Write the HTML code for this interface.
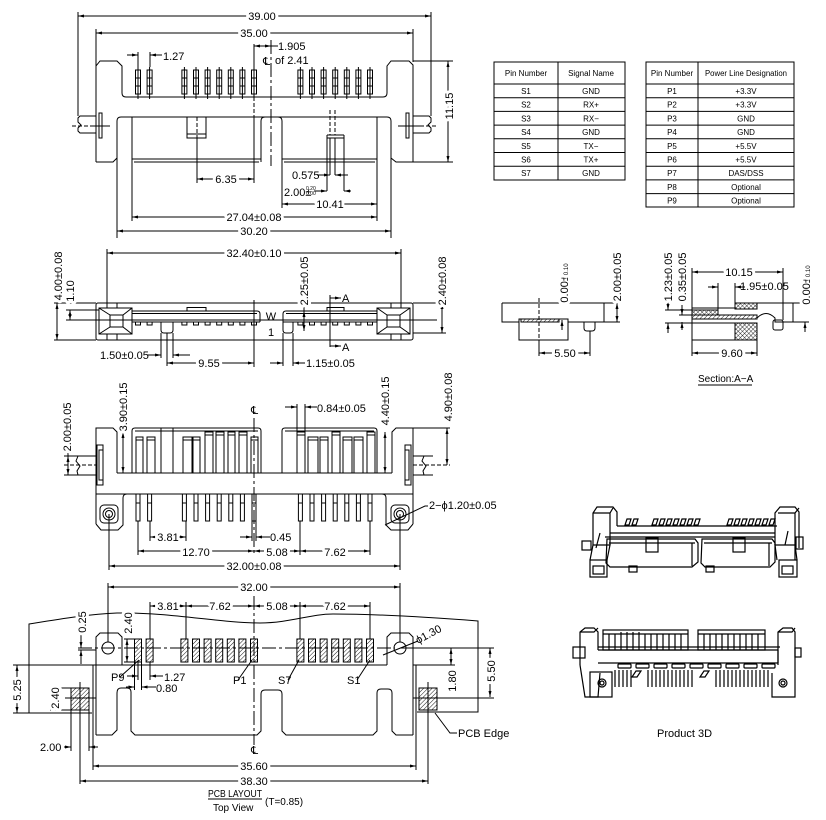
<!DOCTYPE html>
<html><head><meta charset="utf-8">
<style>
html,body{margin:0;padding:0;background:#fff;width:826px;height:820px;overflow:hidden}
svg{display:block}
.l{stroke:#000;stroke-width:1;fill:none}
.m{marker-start:url(#a);marker-end:url(#a)}
.me{marker-end:url(#a)}
text{font-family:"Liberation Sans","DejaVu Sans",sans-serif;font-size:11px;fill:#000;stroke:none}
.d{paint-order:stroke;stroke:#fff;stroke-width:6px;stroke-linejoin:round}
.tb{font-size:8px}
.dash{stroke-dasharray:4 2}
.cl{stroke-dasharray:14 3 3 3}
.hp{fill:url(#h)}
.xp{fill:url(#x)}
.bk{fill:#000}
.g3 path,.g3 rect,.g3 circle{stroke-width:1.2}
</style></head><body>
<svg width="826" height="820" viewBox="0 0 826 820" xmlns="http://www.w3.org/2000/svg">
<defs>
<marker id="a" viewBox="0 0 8 4" refX="8" refY="2" markerWidth="7" markerHeight="3" markerUnits="userSpaceOnUse" orient="auto-start-reverse"><path d="M0,0L8,2L0,4z" fill="#000"/></marker>
<pattern id="h" width="3" height="3" patternUnits="userSpaceOnUse" patternTransform="rotate(45)"><line x1="0" y1="0" x2="0" y2="3" stroke="#000" stroke-width="0.9"/></pattern>
<pattern id="x" width="3" height="3" patternUnits="userSpaceOnUse" patternTransform="rotate(45)"><path d="M0,0V3M0,0H3" stroke="#000" stroke-width="0.8" fill="none"/></pattern>
<g id="pt" class="l"><rect x="-2.5" y="70" width="5" height="24"/><path d="M0,67V99M-2.5,78H2.5M-2.5,86H2.5"/></g>
<g id="pb" class="l"><rect x="-2" y="494" width="4" height="27"/><path d="M-2,503H2"/></g>
<rect id="tt" class="l" x="-2.5" y="322" width="5" height="3"/>
<rect id="pd" class="l hp" x="-3.5" y="639" width="7" height="23"/>
</defs>
<rect width="826" height="820" fill="#fff"/>

<!-- ================= TOP VIEW ================= -->
<g class="l">
<line class="m" x1="78" y1="16" x2="431" y2="16"/>
<path d="M78,12V116M431,12V116M96,29V66M413,29V62"/>
<line class="m" x1="96" y1="33" x2="413" y2="33"/>
<path d="M96,162V66L100,61H117L122,66V93Q122,97 126,97H383Q387,97 387,93V66L391,61H409L413,65V162H396L391,158"/>
<path d="M96,162H113L117,158"/>
<path d="M117,238V121Q117,117 121,117H387Q391,117 391,121V238"/>
<path d="M261,162V121Q261,117 265,117M282,162V121Q282,117 278,117"/>
<path d="M132,117V221M377,117V221"/>
<path d="M132,159H261M134,162H259M282,159H377M284,162H375"/>
<rect x="187" y="117" width="19" height="21"/><path d="M187,134H206"/>
<path d="M197,138V183"/><path class="dash" d="M197,117V138"/>
<path d="M254,44V97M254,117V183"/><path class="dash" d="M254,97V117"/>
<path class="cl" d="M271,40V166"/>
<path d="M327,135V191M344,135V191M327,135H344M327,138H344M330,138V175M335,138V175"/>
<path class="dash" d="M330,110V135M335,110V135"/>
<path d="M96,116H80L78,118V122L81,125L78,128V131L80,133H96"/>
<path d="M413,116H429L431,118V122L428,125L431,128V131L429,133H413"/>
<rect x="99" y="113" width="3" height="25"/><rect x="406" y="113" width="3" height="25"/>
<path d="M90,126H110M398,126H420"/><path class="dash" d="M72,126H90M420,126H438"/>
<line class="m" x1="254" y1="46" x2="271" y2="46"/><path d="M271,46H278"/>
<line class="me" x1="127" y1="55" x2="138" y2="55"/><line class="me" x1="162" y1="55" x2="150" y2="55"/>
<path d="M138,52V67M150,52V67"/>
<line class="me" x1="317" y1="175" x2="330" y2="175"/><line class="me" x1="348" y1="175" x2="335" y2="175"/>
<line class="me" x1="314" y1="191" x2="327" y2="191"/><line class="me" x1="351" y1="191" x2="344" y2="191"/>
<line class="m" x1="197" y1="179" x2="254" y2="179"/>
<path d="M282,162V208"/>
<line class="m" x1="282" y1="204" x2="377" y2="204"/>
<line class="m" x1="132" y1="217" x2="377" y2="217"/>
<line class="m" x1="117" y1="231" x2="391" y2="231"/>
<path d="M413,61H453M413,162H453"/>
<line class="m" x1="448" y1="61" x2="448" y2="162"/>
</g>
<use href="#pt" x="138"/><use href="#pt" x="149.6"/>
<use href="#pt" x="184.4"/><use href="#pt" x="196"/><use href="#pt" x="207.6"/><use href="#pt" x="219.2"/><use href="#pt" x="230.8"/><use href="#pt" x="242.4"/><use href="#pt" x="254"/>
<use href="#pt" x="300.4"/><use href="#pt" x="312"/><use href="#pt" x="323.6"/><use href="#pt" x="335.2"/><use href="#pt" x="346.8"/><use href="#pt" x="358.4"/><use href="#pt" x="370"/>
<text class="d" x="262" y="20" text-anchor="middle">39.00</text>
<text class="d" x="254" y="37" text-anchor="middle">35.00</text>
<text x="278" y="50">1.905</text>
<text x="263" y="65">℄</text><text x="275" y="64">of 2.41</text>
<text x="163" y="60">1.27</text>
<text class="d" x="226" y="183" text-anchor="middle">6.35</text>
<text x="292" y="179">0.575</text>
<text x="284" y="196">2.00±</text><text x="306" y="190" style="font-size:5px">0.20</text><text x="306" y="195" style="font-size:5px">0.00</text>
<text class="d" x="330" y="208" text-anchor="middle">10.41</text>
<text class="d" x="254" y="221" text-anchor="middle">27.04±0.08</text>
<text class="d" x="254" y="235" text-anchor="middle">30.20</text>
<text class="d" transform="translate(453,106) rotate(-90)" text-anchor="middle">11.15</text>

<!-- ================= TABLES ================= -->
<g class="l">
<rect x="494" y="62" width="131" height="118"/>
<path d="M558,62V180M494,84H625M494,97.7H625M494,111.4H625M494,125.1H625M494,138.8H625M494,152.5H625M494,166.2H625"/>
<rect x="646" y="62" width="148" height="145"/>
<path d="M698,62V207M646,84H794M646,97.7H794M646,111.4H794M646,125.1H794M646,138.8H794M646,152.5H794M646,166.2H794M646,179.9H794M646,193.6H794"/>
</g>
<g class="tb" text-anchor="middle">
<text class="tb" x="526" y="76">Pin Number</text><text class="tb" x="591" y="76">Signal Name</text>
<text class="tb" x="526" y="94">S1</text><text class="tb" x="591" y="94">GND</text>
<text class="tb" x="526" y="107.7">S2</text><text class="tb" x="591" y="107.7">RX+</text>
<text class="tb" x="526" y="121.4">S3</text><text class="tb" x="591" y="121.4">RX−</text>
<text class="tb" x="526" y="135.1">S4</text><text class="tb" x="591" y="135.1">GND</text>
<text class="tb" x="526" y="148.8">S5</text><text class="tb" x="591" y="148.8">TX−</text>
<text class="tb" x="526" y="162.5">S6</text><text class="tb" x="591" y="162.5">TX+</text>
<text class="tb" x="526" y="176.2">S7</text><text class="tb" x="591" y="176.2">GND</text>
<text class="tb" x="672" y="76">Pin Number</text><text class="tb" x="746" y="76" textLength="82" lengthAdjust="spacingAndGlyphs">Power Line Designation</text>
<text class="tb" x="672" y="94">P1</text><text class="tb" x="746" y="94">+3.3V</text>
<text class="tb" x="672" y="107.7">P2</text><text class="tb" x="746" y="107.7">+3.3V</text>
<text class="tb" x="672" y="121.4">P3</text><text class="tb" x="746" y="121.4">GND</text>
<text class="tb" x="672" y="135.1">P4</text><text class="tb" x="746" y="135.1">GND</text>
<text class="tb" x="672" y="148.8">P5</text><text class="tb" x="746" y="148.8">+5.5V</text>
<text class="tb" x="672" y="162.5">P6</text><text class="tb" x="746" y="162.5">+5.5V</text>
<text class="tb" x="672" y="176.2">P7</text><text class="tb" x="746" y="176.2">DAS/DSS</text>
<text class="tb" x="672" y="189.9">P8</text><text class="tb" x="746" y="189.9">Optional</text>
<text class="tb" x="672" y="203.6">P9</text><text class="tb" x="746" y="203.6">Optional</text>
</g>

<!-- ================= FRONT VIEW ================= -->
<g class="l">
<line class="m" x1="107" y1="253" x2="401" y2="253"/>
<path d="M107,249V303M401,249V303"/>
<rect x="96" y="303" width="317" height="37" rx="2"/>
<path d="M107,303V308M117,303V308M107,334V340M117,334V340M391,303V308M401,303V308M391,334V340M401,334V340"/>
<rect x="99" y="308" width="33" height="26"/><rect x="110" y="315" width="13" height="12"/>
<path d="M99,308L110,315M132,308L123,315M99,334L110,327M132,334L123,327"/>
<rect x="377" y="308" width="33" height="26"/><rect x="387" y="315" width="13" height="12"/>
<path d="M377,308L387,315M410,308L400,315M377,334L387,327M410,334L400,327"/>
<path d="M77,320H437"/>
<path d="M132,311H257Q260,311 260,314V322M132,313.5H257M132,322H260"/>
<path d="M283,322V314Q283,311 286,311H377M286,313.5H377M283,322H377"/>
<rect x="187" y="307.5" width="19" height="3.5"/><rect x="327" y="307.5" width="17" height="3.5"/>
<path d="M161,322V330Q161,333 164,333H170Q173,333 173,330V322"/>
<path d="M283,322V330Q283,333 286,333H290Q293,333 293,330V322"/>
<path d="M254,300V367"/>
<path d="M330,295V347"/>
<line class="me" x1="330" y1="298" x2="341" y2="298"/><line class="me" x1="330" y1="346" x2="341" y2="346"/>
<path d="M54,303H96M54,340H96"/><line class="m" x1="57" y1="303" x2="57" y2="340"/>
<path d="M66,310H99M66,320H77"/><line class="m" x1="70" y1="310" x2="70" y2="320"/>
<line class="m" x1="304" y1="311" x2="304" y2="331"/><path d="M304,303V311"/>
<path d="M413,303H446M413,333H446"/><line class="m" x1="442" y1="303" x2="442" y2="333"/>
<path d="M161,333V358M173,333V358M167,333V366M283,333V366M293,333V366"/>
<line class="me" x1="147" y1="355" x2="161" y2="355"/><line class="me" x1="190" y1="355" x2="173" y2="355"/>
<line class="m" x1="167" y1="363" x2="254" y2="363"/>
<line class="me" x1="270" y1="363" x2="283" y2="363"/><line class="me" x1="305" y1="363" x2="293" y2="363"/>
</g>
<use href="#tt" x="138"/><use href="#tt" x="149.6"/><use href="#tt" x="184.4"/><use href="#tt" x="196"/><use href="#tt" x="207.6"/><use href="#tt" x="219.2"/><use href="#tt" x="230.8"/><use href="#tt" x="242.4"/><use href="#tt" x="254"/>
<use href="#tt" x="300.4"/><use href="#tt" x="312"/><use href="#tt" x="323.6"/><use href="#tt" x="335.2"/><use href="#tt" x="346.8"/><use href="#tt" x="358.4"/><use href="#tt" x="370"/>
<text class="d" x="254" y="257" text-anchor="middle">32.40±0.10</text>
<text x="271" y="320" text-anchor="middle">W</text>
<text x="271" y="336" text-anchor="middle">1</text>
<text x="342" y="302">A</text><text x="342" y="351">A</text>
<text class="d" transform="translate(62,276) rotate(-90)" text-anchor="middle">4.00±0.08</text>
<text class="d" transform="translate(74,291) rotate(-90)" text-anchor="middle">1.10</text>
<text class="d" transform="translate(308,281) rotate(-90)" text-anchor="middle">2.25±0.05</text>
<text class="d" transform="translate(446,281) rotate(-90)" text-anchor="middle">2.40±0.08</text>
<text x="100" y="359">1.50±0.05</text>
<text class="d" x="209" y="367" text-anchor="middle">9.55</text>
<text x="306" y="367">1.15±0.05</text>

<!-- ================= SECTION VIEWS ================= -->
<g class="l">
<path d="M502,303H617M502,303V322H519M568,322H620M604,303V322"/>
<rect x="519" y="319" width="49" height="21"/>
<rect class="hp" x="521" y="319" width="38" height="3"/>
<path class="dash" d="M539,298V340"/><path d="M539,340V356"/>
<path d="M584,322V328Q584,331 587,331H592Q595,331 595,328V322M590,331V356"/>
<line class="m" x1="539" y1="353" x2="590" y2="353"/>
<line class="me" x1="562" y1="290" x2="562" y2="303"/><line class="me" x1="562" y1="330" x2="562" y2="320"/>
<line class="m" x1="617" y1="303" x2="617" y2="322"/>

<path d="M692,268V340H757V323M735,303H793V322H783M692,308H735V303"/>
<path d="M783,268V320M718,283V310M735,283V303"/>
<line class="m" x1="692" y1="272" x2="783" y2="272"/>
<line class="me" x1="708" y1="287" x2="718" y2="287"/><line class="me" x1="745" y1="287" x2="735" y2="287"/>
<rect class="l xp" x="735" y="303" width="22" height="6"/>
<rect class="l xp" x="735" y="323" width="22" height="17"/>
<rect class="l xp" x="692" y="310" width="26" height="5"/>
<rect class="l hp" x="692" y="315" width="65" height="4"/>
<path d="M692,323H735M757,318Q766,309 775,318V322H783"/>
<rect x="773" y="320" width="10" height="10" rx="2"/>
<path d="M692,340V356M757,340V356"/>
<line class="m" x1="692" y1="353" x2="757" y2="353"/>
<path d="M665,310H692M665,323H692M679,315H692"/>
<line class="me" x1="668" y1="300" x2="668" y2="310"/><line class="me" x1="668" y1="333" x2="668" y2="323"/>
<line class="me" x1="682" y1="305" x2="682" y2="315"/><line class="me" x1="682" y1="330" x2="682" y2="322"/>
<path d="M793,303H809M793,322H809"/>
<line class="me" x1="805" y1="293" x2="805" y2="303"/><line class="me" x1="805" y1="332" x2="805" y2="322"/>
<path d="M698,385H752"/>
</g>
<text class="d" transform="translate(568,283) rotate(-90)" text-anchor="middle">0.00±<tspan style="font-size:6px">0.10</tspan></text>
<text class="d" transform="translate(621,277) rotate(-90)" text-anchor="middle">2.00±0.05</text>
<text class="d" x="565" y="357" text-anchor="middle">5.50</text>
<text class="d" x="739" y="276" text-anchor="middle">10.15</text>
<text x="740" y="290">1.95±0.05</text>
<text class="d" x="732" y="357" text-anchor="middle">9.60</text>
<text class="d" transform="translate(672,277) rotate(-90)" text-anchor="middle">1.23±0.05</text>
<text class="d" transform="translate(686,277) rotate(-90)" text-anchor="middle">0.35±0.05</text>
<text class="d" transform="translate(810,285) rotate(-90)" text-anchor="middle">0.00±<tspan style="font-size:6px">0.10</tspan></text>
<text x="698" y="382" style="font-size:10px">Section:A−A</text>

<!-- ================= BOTTOM/FRONT VIEW ================= -->
<g class="l">
<path d="M96,524V428H113L117,432V473M413,524V428H396L392,432V473"/>
<path d="M117,473H392M96,494H413"/>
<path d="M96,524L101,530H118L123,525V498Q123,494 127,494"/>
<path d="M413,524L408,530H391L386,525V498Q386,494 382,494"/>
<rect x="100" y="505" width="18" height="18" rx="4"/><circle cx="109" cy="514" r="6"/><circle cx="109" cy="514" r="3.5"/>
<rect x="391" y="505" width="18" height="18" rx="4"/><circle cx="400" cy="514" r="6"/><circle cx="400" cy="514" r="3.5"/>
<path d="M132,473V431Q132,428 135,428H258Q261,428 261,431V473M135,431H258M161,428V473M173,428V473"/>
<path d="M282,473V431Q282,428 285,428H374Q377,428 377,431V473M285,431H374"/>
<rect x="136" y="437" width="7" height="36"/><rect x="147" y="437" width="8" height="36"/>
<rect x="183" y="437" width="9" height="36"/><rect x="193" y="437" width="7" height="36"/>
<rect x="205" y="432" width="8" height="41"/><rect x="216" y="432" width="8" height="41"/>
<rect x="228" y="432" width="7" height="41"/><rect x="239" y="432" width="8" height="41"/>
<rect x="251" y="437" width="7" height="36"/>
<rect x="297" y="432" width="8" height="41"/><rect x="308" y="437" width="10" height="36"/>
<rect x="320" y="437" width="8" height="36"/><rect x="332" y="432" width="8" height="41"/>
<rect x="343" y="437" width="9" height="36"/><rect x="354" y="437" width="9" height="36"/>
<rect x="367" y="432" width="8" height="41"/>
<path d="M136,440H143M147,440H155M183,440H192M193,440H200M205,435H213M216,435H224M228,435H235M239,435H247M251,440H258M297,435H305M308,440H318M320,440H328M332,435H340M343,440H352M354,440H363M367,435H375"/>
<path d="M67,456H96M67,475H96M78,456L76,461L80,466L77,471L78,475"/>
<path d="M413,456H433M413,475H433M424,456L422,461L426,466L423,471L424,475"/>
<rect x="97" y="445" width="6" height="40"/><rect x="99" y="450" width="4" height="30"/>
<rect x="405" y="445" width="6" height="40"/><rect x="405" y="450" width="4" height="30"/>
<path class="dash" d="M64,465H96M413,465H450"/>
<path class="cl" d="M254,418V556"/>
<path d="M64,456H67M64,475H67"/>
<line class="m" x1="68" y1="456" x2="68" y2="475"/><path d="M68,452V456"/>
<line class="m" x1="123" y1="432" x2="123" y2="473"/>
<line class="m" x1="385" y1="432" x2="385" y2="473"/>
<path d="M413,428H450"/><line class="m" x1="447" y1="428" x2="447" y2="465"/>
<path d="M297,404V432M305,404V432"/>
<line class="me" x1="285" y1="407" x2="297" y2="407"/><line class="me" x1="317" y1="407" x2="305" y2="407"/>
<path d="M150,521V541M186,521V541M138,521V555M300,521V555M370,521V555M109,514V570M400,514V570"/>
<line class="m" x1="150" y1="537" x2="186" y2="537"/>
<line class="me" x1="240" y1="537" x2="252" y2="537"/><line class="me" x1="270" y1="537" x2="256" y2="537"/>
<path d="M252,521V541M256,521V541"/>
<line class="m" x1="138" y1="551" x2="254" y2="551"/>
<line class="m" x1="254" y1="551" x2="300" y2="551"/>
<line class="m" x1="300" y1="551" x2="370" y2="551"/>
<line class="m" x1="109" y1="566" x2="400" y2="566"/>
<path d="M385,525L425,506H428"/>
</g>
<use href="#pb" x="138"/><use href="#pb" x="149.6"/><use href="#pb" x="184.4"/><use href="#pb" x="196"/><use href="#pb" x="207.6"/><use href="#pb" x="219.2"/><use href="#pb" x="230.8"/><use href="#pb" x="242.4"/><use href="#pb" x="254"/>
<use href="#pb" x="300.4"/><use href="#pb" x="312"/><use href="#pb" x="323.6"/><use href="#pb" x="335.2"/><use href="#pb" x="346.8"/><use href="#pb" x="358.4"/><use href="#pb" x="370"/>
<text x="251" y="414">℄</text>
<text x="317" y="412">0.84±0.05</text>
<text class="d" transform="translate(71,427) rotate(-90)" text-anchor="middle">2.00±0.05</text>
<text class="d" transform="translate(127,407) rotate(-90)" text-anchor="middle">3.90±0.15</text>
<text class="d" transform="translate(389,401) rotate(-90)" text-anchor="middle">4.40±0.15</text>
<text class="d" transform="translate(452,397) rotate(-90)" text-anchor="middle">4.90±0.08</text>
<text class="d" x="168" y="541" text-anchor="middle">3.81</text>
<text x="270" y="541">0.45</text>
<text class="d" x="196" y="556" text-anchor="middle">12.70</text>
<text class="d" x="277" y="556" text-anchor="middle">5.08</text>
<text class="d" x="335" y="556" text-anchor="middle">7.62</text>
<text class="d" x="254" y="570" text-anchor="middle">32.00±0.08</text>
<text x="429" y="509">2−ϕ1.20±0.05</text>

<!-- ================= PCB LAYOUT ================= -->
<g class="l">
<line class="m" x1="108" y1="587" x2="400" y2="587"/>
<path d="M108,583V642M400,583V642"/>
<path d="M150,602V639M186,602V639M300,602V639M370,602V639"/>
<line class="m" x1="150" y1="606" x2="186" y2="606"/>
<line class="m" x1="186" y1="606" x2="254" y2="606"/>
<line class="m" x1="254" y1="606" x2="300" y2="606"/>
<line class="m" x1="300" y1="606" x2="370" y2="606"/>
<path d="M29,713V624C60,619 90,614 117,613C170,612 220,623 260,623C290,623 310,614 333,614C380,614 440,618 478,621V712H417"/>
<path d="M13,713H92"/>
<path d="M96,735V637L100,633H118L122,637V665M387,665V637L391,633H409L413,637V735"/>
<path d="M13,665H387M413,665H455"/>
<path d="M96,735H112L117,730V693Q117,688 121,688H127Q131,688 131,692V731L135,735H257L261,731V694Q261,690 265,690H278Q282,690 282,694V731L286,735H373L377,731V693Q377,689 381,689H388Q392,689 392,693V731L396,735H413"/>
<path d="M93,665V770M416,665V770M80,682V784M428,682V784"/>
<line class="m" x1="93" y1="766" x2="416" y2="766"/>
<line class="m" x1="80" y1="781" x2="428" y2="781"/>
<circle cx="108" cy="648" r="6"/><circle cx="400" cy="648" r="6"/>
<path class="cl" d="M78,648H395"/>
<path d="M78,650H96"/>
<rect class="l hp" x="71" y="688" width="18" height="22"/>
<rect class="l hp" x="419" y="688" width="18" height="22"/>
<path d="M65,698H96M413,698H494"/>
<path class="cl" d="M254,596V745"/>
<line class="me" x1="81" y1="634" x2="81" y2="648"/><line class="me" x1="81" y1="664" x2="81" y2="650"/>
<path d="M124,639H136M124,662H136"/><line class="m" x1="127" y1="639" x2="127" y2="662"/>
<path d="M120,677L139,660"/>
<path d="M138,662V680M150,662V680M134.5,662V690M141.5,662V690"/>
<line class="me" x1="127" y1="676" x2="138" y2="676"/><line class="me" x1="163" y1="676" x2="150" y2="676"/>
<line class="me" x1="126" y1="687" x2="134.5" y2="687"/><line class="me" x1="156" y1="687" x2="141.5" y2="687"/>
<path d="M238,680L252,660M288,680L299,660M357,680L370,660"/>
<path d="M383,655L418,641"/>
<path d="M400,648H494"/>
<line class="m" x1="451" y1="648" x2="451" y2="665"/>
<line class="m" x1="490" y1="648" x2="490" y2="697"/>
<line class="m" x1="17" y1="665" x2="17" y2="713"/>
<path d="M50,688H71M50,710H71"/><line class="m" x1="55" y1="688" x2="55" y2="710"/>
<path d="M71,710V751M89,710V751"/>
<line class="me" x1="64" y1="747" x2="71" y2="747"/><line class="me" x1="98" y1="747" x2="89" y2="747"/>
<path d="M435,713L450,733H457"/>
<path d="M208,799H262"/>
</g>
<use href="#pd" x="138"/><use href="#pd" x="149.6"/><use href="#pd" x="184.4"/><use href="#pd" x="196"/><use href="#pd" x="207.6"/><use href="#pd" x="219.2"/><use href="#pd" x="230.8"/><use href="#pd" x="242.4"/><use href="#pd" x="254"/>
<use href="#pd" x="300.4"/><use href="#pd" x="312"/><use href="#pd" x="323.6"/><use href="#pd" x="335.2"/><use href="#pd" x="346.8"/><use href="#pd" x="358.4"/><use href="#pd" x="370"/>
<text class="d" x="254" y="591" text-anchor="middle">32.00</text>
<text class="d" x="168" y="610" text-anchor="middle">3.81</text>
<text class="d" x="220" y="610" text-anchor="middle">7.62</text>
<text class="d" x="277" y="610" text-anchor="middle">5.08</text>
<text class="d" x="335" y="610" text-anchor="middle">7.62</text>
<text class="d" transform="translate(86,622) rotate(-90)" text-anchor="middle">0.25</text>
<text class="d" transform="translate(132,623) rotate(-90)" text-anchor="middle">2.40</text>
<text x="111" y="681">P9</text>
<text x="164" y="681">1.27</text>
<text x="156" y="692">0.80</text>
<text x="233" y="684">P1</text>
<text x="278" y="684">S7</text>
<text x="347" y="684">S1</text>
<text transform="translate(418,644) rotate(-28)">ϕ1.30</text>
<text class="d" transform="translate(456,681) rotate(-90)" text-anchor="middle">1.80</text>
<text class="d" transform="translate(495,671) rotate(-90)" text-anchor="middle">5.50</text>
<text class="d" transform="translate(21,690) rotate(-90)" text-anchor="middle">5.25</text>
<text class="d" transform="translate(59,698) rotate(-90)" text-anchor="middle">2.40</text>
<text x="40" y="751">2.00</text>
<text x="458" y="737">PCB  Edge</text>
<text x="251" y="754">℄</text>
<text class="d" x="254" y="770" text-anchor="middle">35.60</text>
<text class="d" x="254" y="785" text-anchor="middle">38.30</text>
<text x="208" y="797" style="font-size:10px" textLength="54" lengthAdjust="spacingAndGlyphs">PCB  LAYOUT</text>
<text x="213" y="811" style="font-size:10px">Top  View</text>
<text x="265" y="805" style="font-size:10px">(T=0.85)</text>

<!-- ================= 3D PRODUCT ================= -->
<g class="l g3">
<!-- top 3D -->
<path d="M593,545V513L597,507H613L617,512V526"/>
<path d="M593,513H610L613,508M610,513V545"/>
<rect x="590" y="560" width="17" height="17"/><rect x="593" y="566" width="11" height="8"/>
<path d="M590,560L593,545H610L607,560"/>
<rect x="582" y="541" width="9" height="9"/>
<path d="M600,533L596,548" stroke-width="2"/>
<path d="M617,526H777M605,537H775M610,533H775"/>
<path d="M625,525L627,519H631L629,525ZM632,525L634,519H638L636,525ZM652,525L654,519H658L656,525ZM659,525L661,519H665L663,525ZM666,525L668,519H672L670,525ZM673,525L675,519H679L677,525ZM680,525L682,519H686L684,525ZM687,525L689,519H693L691,525ZM694,525L696,519H700L698,525ZM727,525L729,519H733L731,525ZM734,525L736,519H740L738,525ZM741,525L743,519H747L745,525ZM748,525L750,519H754L752,525ZM755,525L757,519H761L759,525ZM762,525L764,519H768L766,525ZM769,525L771,519H775L773,525Z"/>
<path d="M607,539H695L698,543V562L692,567H610L606,563ZM609,543H695M692,543V566"/>
<rect x="646" y="538" width="12" height="14"/>
<rect x="629" y="566" width="8" height="6"/>
<path d="M702,539H772L775,543V562L770,567H705L701,563ZM704,543H772M769,543V566"/>
<rect x="733" y="538" width="12" height="14"/>
<rect x="706" y="566" width="8" height="6"/>
<path d="M775,545V513L780,507H795L799,512V548M778,513H795L799,508M795,513V560"/>
<rect x="779" y="560" width="18" height="17"/><rect x="782" y="566" width="11" height="8"/>
<path d="M777,560L775,545H795L797,560"/>
<rect x="796" y="537" width="7" height="12"/>
<path d="M788,531L785,545" stroke-width="2"/>
<!-- bottom 3D -->
<path d="M580,665V632L585,628H594L598,632V650M580,632H594L598,628"/>
<path d="M580,665L585,697H598L600,673"/>
<rect x="590" y="672" width="22" height="25"/><circle cx="602" cy="683" r="4"/><circle cx="602" cy="683" r="2"/>
<rect x="573" y="647" width="12" height="11"/>
<rect x="603" y="630" width="85" height="20"/>
<rect x="698" y="630" width="67" height="20"/>
<path d="M609,634V650M615,634V650M621,632V650M627,632V650M633,632V650M639,632V650M645,634V650M651,634V650M657,634V650M663,634V650M669,634V650M675,634V650M681,634V650M704,634V650M710,634V650M716,634V650M722,634V650M728,634V650M734,634V650M740,634V650M746,634V650M752,634V650M758,634V650" stroke-width="1.4"/>
<path d="M603,634H688M698,634H765" stroke-width="2"/>
<path d="M598,647H780M598,650H778M598,663H778M778,650V663"/>
<rect x="618" y="664" width="13" height="4" rx="1"/><rect x="636" y="664" width="13" height="4" rx="1"/><rect x="654" y="664" width="13" height="4" rx="1"/><rect x="672" y="664" width="13" height="4" rx="1"/><rect x="690" y="664" width="13" height="4" rx="1"/><rect x="708" y="664" width="13" height="4" rx="1"/><rect x="726" y="664" width="13" height="4" rx="1"/><rect x="744" y="664" width="13" height="4" rx="1"/><rect x="762" y="664" width="13" height="4" rx="1"/>
<path d="M615,670V687M619,670V687M623,670V687M627,670V687M631,670V687M648,670V687M652,670V687M656,670V687M660,670V687M664,670V687M668,670V687M672,670V687M676,670V687M680,670V687M684,670V687M688,670V687M692,670V687M716,670V687M720,670V687M724,670V687M728,670V687M732,670V687M736,670V687M740,670V687M744,670V687M748,670V687M752,670V687M756,670V687M760,670V687M764,670V687M768,670V687" stroke-width="1.5"/>
<path d="M632,677L636,671H641L637,677ZM700,677L704,671H709L705,677Z"/>
<path d="M778,665V632L783,628H792L795,632V697H772V673M778,632H792L795,628"/>
<circle cx="783" cy="683" r="4"/><circle cx="783" cy="683" r="2"/>
<rect x="795" y="648" width="6" height="9"/>
</g>
<text x="657" y="737">Product  3D</text>
</svg>
</body></html>
